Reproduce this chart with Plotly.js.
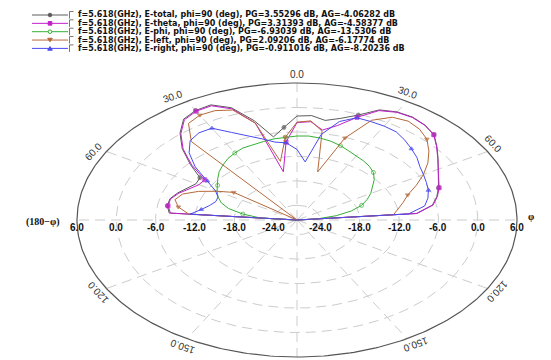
<!DOCTYPE html>
<html><head><meta charset="utf-8">
<script src="https://cdn.plot.ly/plotly-3.0.1.min.js"></script>
<style>html,body{margin:0;padding:0;background:#fff}</style>
</head><body><div id="chart" style="width:551px;height:360px"></div>
<script>
// ---------------- data (theta in deg, values in dB) ----------------
const theta = [-90,-85,-80,-75,-70,-65,-60,-55,-50,-45,-40,-35,-30,-25,-20,-15,-10,-5,0,5,10,15,20,25,30,35,40,45,50,55,60,65,70,75,80,85,90];
const eTotal = [-40,-8.0,-7.5,-7.5,-8.2,-9.2,-9.8,-9.5,-6.3,-2.8,0.2,2.6,3.4,3.55,1.7,-2.4,-6.9,-4.8,-2.1,-1.9,-2.8,-1.8,-0.2,2.2,3.0,3.2,2.8,2.0,0.3,-1.3,-2.7,-3.8,-4.6,-5.5,-6.6,-9.3,-40];
const eTheta = [-40,-8.2,-7.6,-7.6,-8.4,-9.5,-10.3,-10.4,-6.6,-3.0,0.0,2.4,3.2,3.31,1.4,-3.0,-15.6,-8.4,-3.7,-3.4,-5.2,-3.6,-0.8,2.0,2.9,3.1,2.75,1.95,0.25,-1.35,-2.7,-3.8,-4.5,-5.4,-6.5,-9.2,-40];
const ePhi = [-40,-22,-19.2,-16.8,-15.3,-14.3,-13.5,-12.8,-11.8,-10.8,-10.0,-9.2,-8.6,-8.1,-7.9,-7.7,-7.4,-7.2,-7.0,-6.93,-7.2,-7.6,-8.2,-8.9,-9.5,-9.9,-10.4,-11.1,-12.2,-13.5,-14.6,-15.8,-17.1,-19.0,-21.5,-24.5,-40];
const eLeft = [-40,-11,-9.2,-8.3,-9.0,-11,-13.5,-15.8,-40,-40,-2.5,1.3,2.09,2.0,1.1,-3.0,-13,-7.2,-3.6,-3.2,-5.5,-15.4,-6.2,-0.6,1.5,2.0,1.5,0.45,-1.3,-3.2,-5.3,-7.5,-9.6,-10.8,-12,-12.8,-40];
const eRight = [-40,-11.2,-12.75,-13.8,-14.4,-14.3,-13.2,-10.9,-7.3,-4.3,-2.2,-1.5,-1.6,-3.9,-5.6,-7.0,-8.2,-8.6,-10.3,-13.3,-6.3,-2.6,-0.911,-0.95,-1.0,-1.2,-2.0,-2.9,-3.7,-4.7,-5.3,-5.8,-6.25,-6.9,-7.8,-10.5,-40];

const seriesNames = [
  "f=5.618(GHz), E-total, phi=90 (deg), PG=3.55296 dB, AG=-4.06282 dB",
  "f=5.618(GHz), E-theta, phi=90 (deg), PG=3.31393 dB, AG=-4.58377 dB",
  "f=5.618(GHz), E-phi, phi=90 (deg), PG=-6.93039 dB, AG=-13.5306 dB",
  "f=5.618(GHz), E-left, phi=90 (deg), PG=2.09206 dB, AG=-6.17774 dB",
  "f=5.618(GHz), E-right, phi=90 (deg), PG=-0.911016 dB, AG=-8.20236 dB"
];
const radialTicks = [6, 0, -6, -12, -18, -24];
const angleTicks = [0, 30, 60, 120, 150];
const rMin = -27.6, rMax = 6.0;

// ---------------- styles / geometry ----------------
const W = 551, H = 360, CX = 297, CY = 220, RX = 220, RY = 137;
const colors = ['#5c5c5c', '#c21fcb', '#35b035', '#b5693a', '#4a4af0'];
const symbols = ['circle', 'square', 'circle-open', 'triangle-down', 'triangle-up'];
const allSeries = [eTotal, eTheta, ePhi, eLeft, eRight];
const FONT = 'Liberation Sans, Arial, sans-serif';
const LFONT = 'DejaVu Sans, Verdana, sans-serif';
const gridColor = '#cccccc';
// small along-baseline nudges of the angle labels (style only)
const labelShift = { '0': 0, '-30': -12, '-60': -9, '-120': 3, '-150': 1.5, '30': -2.5, '60': -2, '120': -4, '150': -6 };

function rho(r) { return Math.max(0, Math.min(1, (r - rMin) / (rMax - rMin))); }
function rad(d) { return d * Math.PI / 180; }

const traces = [];
(function () {
  const xs = [], ys = [];
  radialTicks.filter(v => v < rMax).forEach(v => {
    const p = rho(v);
    for (let a = 0; a <= 360; a += 2) { xs.push(p * Math.sin(rad(a))); ys.push(p * Math.cos(rad(a))); }
    xs.push(null); ys.push(null);
  });
  for (let a = 0; a < 360; a += 30) {
    xs.push(0, Math.sin(rad(a)), null); ys.push(0, Math.cos(rad(a)), null);
  }
  traces.push({ x: xs, y: ys, mode: 'lines', line: { color: gridColor, width: 1, dash: '10px,6px' }, hoverinfo: 'skip', showlegend: false });
  const ox = [], oy = [];
  for (let a = 0; a <= 360; a += 1) { ox.push(Math.sin(rad(a))); oy.push(Math.cos(rad(a))); }
  traces.push({ x: ox, y: oy, mode: 'lines', line: { color: '#555', width: 1.2 }, hoverinfo: 'skip', showlegend: false });
})();

allSeries.forEach((vals, k) => {
  const xs = [], ys = [], sz = [];
  vals.forEach((v, i) => {
    const p = rho(v), a = rad(theta[i]);
    xs.push(p * Math.sin(a)); ys.push(p * Math.cos(a));
    sz.push(((theta[i] + 80) % 25 === 0) ? 4 : 0);
  });
  traces.push({ x: xs, y: ys, mode: 'lines+markers', name: seriesNames[k],
    line: { color: colors[k], width: 1 },
    marker: { symbol: symbols[k], size: sz, color: colors[k], line: { color: colors[k], width: 1 } },
    hoverinfo: 'skip', showlegend: false, cliponaxis: false });
});

const annotations = [];
radialTicks.forEach(v => {
  [-1, 1].forEach(s => {
    annotations.push({ x: s * rho(v), y: 0, xref: 'x', yref: 'y', text: '<b>' + v.toFixed(1) + '</b>', showarrow: false,
      xanchor: 'center', yanchor: 'middle', yshift: -7, font: { family: FONT, size: 10, color: '#111' } });
  });
});
annotations.push({ x: -1 - 34 / RX, y: 0, text: '<b>(180\u2212\u03c6)</b>', showarrow: false, xanchor: 'center', yanchor: 'middle', yshift: -2,
  font: { family: 'Liberation Serif, Times New Roman, serif', size: 10, color: '#111' } });
annotations.push({ x: 1 + 14 / RX, y: 0, text: '<b>\u03c6</b>', showarrow: false, xanchor: 'center', yanchor: 'middle', yshift: 4,
  font: { family: 'Liberation Serif, Times New Roman, serif', size: 10, color: '#111' } });
angleTicks.forEach(v => {
  (v === 0 ? [1] : [-1, 1]).forEach(s => {
    const t = rad(s * v);
    const sx = RX * Math.sin(t), sy = -RY * Math.cos(t);
    let nx = sx / (RX * RX), ny = sy / (RY * RY);
    const nl = Math.hypot(nx, ny); nx /= nl; ny /= nl;
    const ang = Math.atan2(nx, -ny);
    const sh = labelShift[String(s * v)] || 0;
    const px = sx + 9 * nx + sh * Math.cos(ang), py = sy + 9 * ny + sh * Math.sin(ang);
    annotations.push({ x: px / RX, y: -py / RY, text: v.toFixed(1), showarrow: false, xanchor: 'center', yanchor: 'middle',
      textangle: ang * 180 / Math.PI, font: { family: FONT, size: 10, color: '#333' } });
  });
});

// legend (layout decoration)
const shapes = [];
const L0 = 15, LS = 8.35;
const px2x = px => px / W, py2y = py => 1 - py / H;
seriesNames.forEach((nm, k) => {
  const yy = L0 + k * LS;
  shapes.push({ type: 'line', xref: 'paper', yref: 'paper', x0: px2x(32), x1: px2x(68), y0: py2y(yy), y1: py2y(yy), line: { color: colors[k], width: 1 } });
  const m = 1.8, cx = 50;
  if (symbols[k] === 'square') {
    shapes.push({ type: 'rect', xref: 'paper', yref: 'paper', x0: px2x(cx - m), x1: px2x(cx + m), y0: py2y(yy - m), y1: py2y(yy + m), fillcolor: colors[k], line: { color: colors[k], width: 1 } });
  } else if (symbols[k].indexOf('circle') === 0) {
    shapes.push({ type: 'circle', xref: 'paper', yref: 'paper', x0: px2x(cx - m), x1: px2x(cx + m), y0: py2y(yy - m), y1: py2y(yy + m),
      fillcolor: symbols[k] === 'circle' ? colors[k] : '#fff', line: { color: colors[k], width: 1 } });
  } else {
    const up = symbols[k] === 'triangle-up' ? -1 : 1;
    const p = 'M ' + px2x(cx - m - 0.5) + ' ' + py2y(yy - up * m) + ' L ' + px2x(cx + m + 0.5) + ' ' + py2y(yy - up * m) + ' L ' + px2x(cx) + ' ' + py2y(yy + up * m) + ' Z';
    shapes.push({ type: 'path', xref: 'paper', yref: 'paper', path: p, fillcolor: colors[k], line: { color: colors[k], width: 1 } });
  }
  const b = 'M ' + px2x(69.5) + ' ' + py2y(yy + 3.5) + ' L ' + px2x(69.5) + ' ' + py2y(yy - 3.5) + ' L ' + px2x(73.5) + ' ' + py2y(yy - 3.5);
  shapes.push({ type: 'path', xref: 'paper', yref: 'paper', path: b, line: { color: '#777', width: 1 } });
  annotations.push({ xref: 'paper', yref: 'paper', x: px2x(76), y: py2y(yy), text: '<b>' + nm + '</b>', showarrow: false,
    xanchor: 'left', yanchor: 'middle', font: { family: LFONT, size: 8, color: '#111' } });
});

const layout = {
  width: W, height: H, margin: { l: 0, r: 0, t: 0, b: 0 },
  paper_bgcolor: '#fff', plot_bgcolor: '#fff', showlegend: false,
  xaxis: { range: [-CX / RX, (W - CX) / RX], visible: false, fixedrange: true },
  yaxis: { range: [-(H - CY) / RY, CY / RY], visible: false, fixedrange: true },
  annotations: annotations, shapes: shapes
};
Plotly.newPlot('chart', traces, layout, { displayModeBar: false, staticPlot: true });
</script>
</body></html>
